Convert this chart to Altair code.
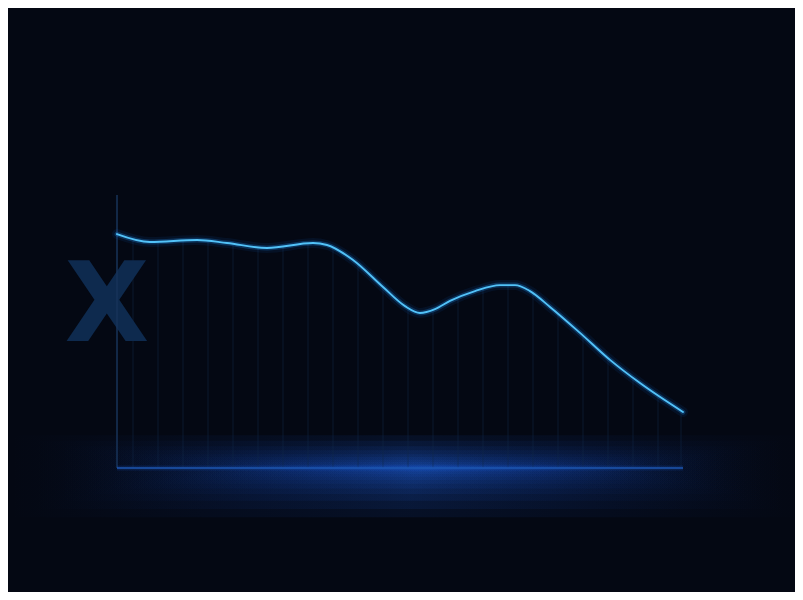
import altair as alt
import pandas as pd

# ---- data ----
line_x = [0, 33, 80, 110, 150, 196, 210, 236, 266, 288, 303, 318, 333, 358, 383, 398, 413, 433, 463, 493, 523, 566]
line_y = [85.7, 82.8, 83.5, 82.4, 80.6, 82.4, 81.7, 76.2, 66.3, 59.3, 56.8, 58.2, 61.2, 64.8, 67.0, 67.0, 64.8, 59.0, 49.5, 39.6, 31.1, 20.5]
grid_x = [16, 41, 66, 91, 116, 141, 166, 191, 216, 241, 266, 291, 316, 341, 366, 391, 416, 441, 466, 491, 516, 541, 564]
label_text = ["X"]
label_x = [-10]
label_y = [58.6]
glow_x = [-110, -85, -60, -35, -10, 15, 40, 65, 90, 110, 130, 150]
glow_x2 = [690, 670, 650, 630, 610, 590, 570, 550, 530, 510, 490, 470]
glow_top = [12, 10, 8, 6.5, 5, 4, 3, 2.2, 1.5, 1.0, 0.6, 0.3]
glow_bot = [-18, -15, -12, -9.5, -7.5, -5.8, -4.4, -3.2, -2.2, -1.4, -0.8, -0.4]

BG = "#040813"
X_DOMAIN = [0, 566]
Y_DOMAIN = [0, 100]

line_df = pd.DataFrame({"x": line_x, "y": line_y, "top": [Y_DOMAIN[1]] * len(line_x)})
grid_df = pd.DataFrame({"x": grid_x, "y0": [Y_DOMAIN[0]] * len(grid_x), "y1": [Y_DOMAIN[1]] * len(grid_x)})
label_df = pd.DataFrame({"t": label_text, "x": label_x, "y": label_y})
glow_df = pd.DataFrame({"x": glow_x, "x2": glow_x2, "y": glow_top, "y2": glow_bot})
axis_df = pd.DataFrame({"x": [X_DOMAIN[0]], "x2": [X_DOMAIN[1]], "y": [Y_DOMAIN[0]], "y2": [Y_DOMAIN[1]]})

xs = alt.Scale(domain=X_DOMAIN, nice=False, zero=False)
ys = alt.Scale(domain=Y_DOMAIN, nice=False, zero=False)

glow = alt.Chart(glow_df).mark_rect(
    opacity=0.09,
    color={
        "gradient": "linear",
        "x1": 0, "y1": 0, "x2": 1, "y2": 0,
        "stops": [
            {"offset": 0, "color": "rgba(20,80,210,0)"},
            {"offset": 0.3, "color": "rgba(22,85,215,0.7)"},
            {"offset": 0.5, "color": "rgba(30,100,235,1)"},
            {"offset": 0.7, "color": "rgba(22,85,215,0.7)"},
            {"offset": 1, "color": "rgba(20,80,210,0)"},
        ],
    },
).encode(
    x=alt.X("x:Q", scale=xs, axis=None), x2="x2:Q",
    y=alt.Y("y:Q", scale=ys, axis=None), y2="y2:Q",
)

grid = alt.Chart(grid_df).mark_rule(color="#12284a", strokeWidth=1, opacity=0.5).encode(
    x=alt.X("x:Q", scale=xs, axis=None),
    y=alt.Y("y0:Q", scale=ys, axis=None), y2="y1:Q",
)

mask = alt.Chart(line_df).mark_area(color=BG, interpolate="monotone", opacity=1).encode(
    x=alt.X("x:Q", scale=xs, axis=None),
    y=alt.Y("y:Q", scale=ys, axis=None), y2="top:Q",
)

label = alt.Chart(label_df).mark_text(
    font="DejaVu Sans", fontWeight="bold", fontSize=110, color="#0e2a4e",
    align="center", baseline="middle",
).encode(
    x=alt.X("x:Q", scale=xs, axis=None),
    y=alt.Y("y:Q", scale=ys, axis=None),
    text="t:N",
)

left_axis = alt.Chart(axis_df).mark_rule(color="#17335a", strokeWidth=1.5).encode(
    x=alt.X("x:Q", scale=xs, axis=None),
    y=alt.Y("y:Q", scale=ys, axis=None), y2="y2:Q",
)
bottom_glow = alt.Chart(axis_df).mark_rule(color="#1e5fd0", strokeWidth=5, opacity=0.18).encode(
    x=alt.X("x:Q", scale=xs, axis=None), x2="x2:Q",
    y=alt.Y("y:Q", scale=ys, axis=None),
)
bottom_axis = alt.Chart(axis_df).mark_rule(color="#1d56b0", strokeWidth=1.5).encode(
    x=alt.X("x:Q", scale=xs, axis=None), x2="x2:Q",
    y=alt.Y("y:Q", scale=ys, axis=None),
)

def line_layer(color, width, opacity):
    return alt.Chart(line_df).mark_line(
        color=color, strokeWidth=width, opacity=opacity, interpolate="monotone",
        strokeCap="round", strokeJoin="round",
    ).encode(
        x=alt.X("x:Q", scale=xs, axis=None),
        y=alt.Y("y:Q", scale=ys, axis=None),
    )

chart = alt.layer(
    glow, grid, mask, label, left_axis, bottom_glow, bottom_axis,
    line_layer("#1565c0", 10, 0.10),
    line_layer("#1e88e5", 5, 0.28),
    line_layer("#52c2f8", 1.9, 1.0),
).properties(
    width=566, height=273,
    padding={"left": 109, "top": 187, "right": 112, "bottom": 124},
    autosize=alt.AutoSizeParams(type="none"),
    background=BG,
).configure_view(stroke=None)

chart.save("out.html", embed_options={"renderer": "svg", "actions": False})
